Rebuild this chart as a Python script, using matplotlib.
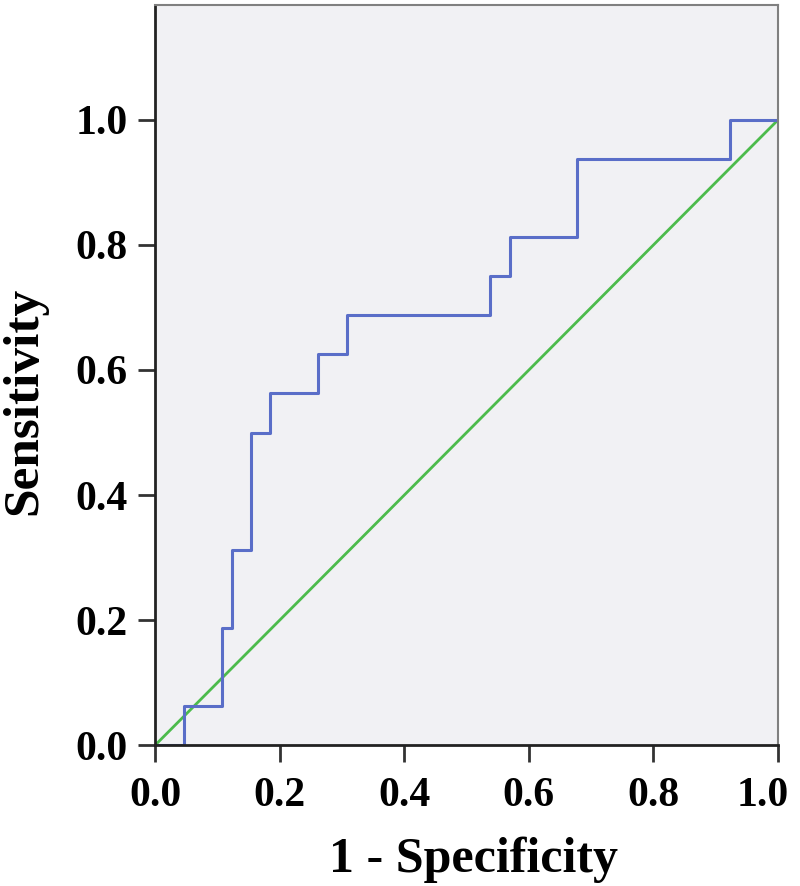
import numpy as np
import matplotlib
matplotlib.use('Agg')
from matplotlib import pyplot as plt
from matplotlib import transforms

# ROC curve points (1 - specificity, sensitivity)
fpr = [0.0, 0.046, 0.046, 0.108, 0.108, 0.123, 0.123, 0.154, 0.154, 0.185, 0.185,
       0.262, 0.262, 0.308, 0.308, 0.538, 0.538, 0.569, 0.569, 0.677, 0.677,
       0.923, 0.923, 1.0]
tpr = [0.0, 0.0, 0.0625, 0.0625, 0.1875, 0.1875, 0.3125, 0.3125, 0.5, 0.5, 0.5625,
       0.5625, 0.625, 0.625, 0.6875, 0.6875, 0.75, 0.75, 0.8125, 0.8125, 0.9375,
       0.9375, 1.0, 1.0]
ref_line = [0.0, 1.0]
ticks = [0.0, 0.2, 0.4, 0.6, 0.8, 1.0]

plt.rcParams['font.family'] = ['Liberation Serif', 'DejaVu Serif']
plt.rcParams['font.weight'] = 'bold'

fig = plt.figure(figsize=(8, 8.86), dpi=100)
ax = fig.add_axes([0.194, 0.159, 0.7785, 0.8355])
ax.set_facecolor('#f1f1f4')

ax.plot(ref_line, ref_line, color='#4cbb4c', lw=2)
ax.plot(fpr, tpr, color='#5a6ec8', lw=2.2)

ax.set_xlim(0, 1)
ax.set_ylim(0, 1.184)
ax.set_xticks(ticks)
ax.set_yticks(ticks)
ax.set_xticklabels(['%.1f' % t for t in ticks], fontsize=30, fontweight='bold')
ax.set_yticklabels(['%.1f' % t for t in ticks], fontsize=30, fontweight='bold')
ax.tick_params(axis='x', length=12, width=2, color='#333333', pad=11)
ax.tick_params(axis='y', length=12, width=2, color='#333333', pad=8)

# last x label sits a little to the left so it stays inside the image
lab = ax.get_xticklabels()[-1]
lab.set_transform(lab.get_transform() + transforms.ScaledTranslation(-11/72, 0, fig.dpi_scale_trans))

for s in ax.spines.values():
    s.set_color('#808080')
    s.set_linewidth(1.5)
ax.spines['left'].set_color('#222222')
ax.spines['bottom'].set_color('#222222')
ax.spines['left'].set_linewidth(2)
ax.spines['bottom'].set_linewidth(2)

fig.text(0.592, 0.016, '1 - Specificity', fontsize=36, fontweight='bold',
         ha='center', va='baseline')
fig.text(0.03, 0.547, 'Sensitivity', fontsize=37, fontweight='bold',
         ha='center', va='center', rotation=90)

fig.savefig('out.png', dpi=100)
